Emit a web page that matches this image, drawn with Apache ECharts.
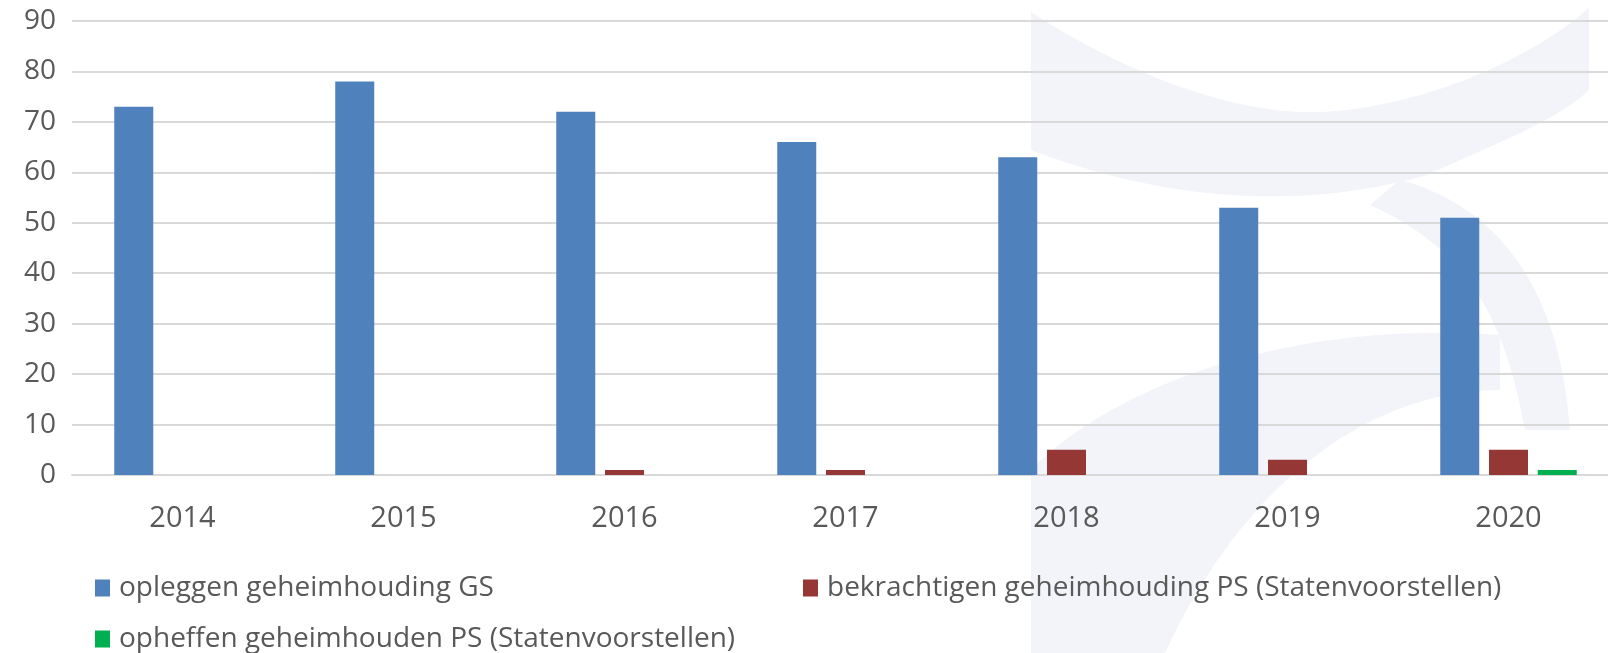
<!DOCTYPE html>
<html style="height: 100%">
<head>
  <meta charset="utf-8">
</head>
<body style="height: 100%; margin: 0; background: #fff">
  <div id="container" style="width: 1608px; height: 653px"></div>
  <script type="text/javascript" src="https://cdn.jsdelivr.net/npm/echarts@6/dist/echarts.min.js"></script>
  <script type="text/javascript">
    var years = ['2014', '2015', '2016', '2017', '2018', '2019', '2020'];
    var opleggenGS = [73, 78, 72, 66, 63, 53, 51];
    var bekrachtigenPS = [0, 0, 1, 1, 5, 3, 5];
    var opheffenPS = [0, 0, 0, 0, 0, 0, 1];
    var names = [
      'opleggen geheimhouding GS',
      'bekrachtigen geheimhouding PS (Statenvoorstellen)',
      'opheffen geheimhouden PS (Statenvoorstellen)'
    ];

    // faint logo watermark shapes
    var logoPaths = [
      'M1031,12 C1120,70 1230,115 1320,112 C1420,108 1530,60 1589,8 L1589,90 C1560,120 1480,150 1427,175 C1340,200 1200,215 1031,150 Z',
      'M1400,180 C1495,205 1560,285 1570,430 L1525,430 C1505,320 1470,250 1370,205 Z',
      'M1031,470 C1120,380 1300,320 1500,335 L1500,390 C1380,390 1250,470 1165,653 L1031,653 Z'
    ];
    var logoElements = [];
    logoPaths.forEach(function (d, i) {
      echarts.graphic.registerShape('logo' + i, echarts.graphic.extendPath(d, {}));
      logoElements.push({ type: 'logo' + i, z: -10, silent: true, style: { fill: '#F2F4F9' } });
    });

    var dom = document.getElementById('container');
    var myChart = echarts.init(dom);
    var font = '"Open Sans", sans-serif';
    var legendBase = {
      orient: 'horizontal',
      padding: 0,
      itemWidth: 15,
      itemHeight: 17,
      itemGap: 10,
      icon: 'rect',
      selectedMode: false,
      textStyle: { color: '#595959', fontSize: 28, fontFamily: font, padding: [0, 0, 0, 4] }
    };

    var option = {
      animation: false,
      backgroundColor: '#ffffff',
      color: ['#4F81BD', '#953735', '#00B050'],
      textStyle: { fontFamily: font },
      graphic: logoElements,
      legend: [
        Object.assign({}, legendBase, { left: 95, top: 574, data: [names[0]] }),
        Object.assign({}, legendBase, { left: 803, top: 574, data: [names[1]] }),
        Object.assign({}, legendBase, { left: 95, top: 625, data: [names[2]] })
      ],
      grid: {
        left: 72,
        width: 1547,
        top: 21,
        bottom: 178,
        containLabel: false,
        outerBoundsMode: 'none'
      },
      xAxis: {
        type: 'category',
        data: years,
        axisTick: { show: false },
        axisLine: { lineStyle: { color: '#D9D9D9', width: 2 } },
        axisLabel: { color: '#595959', fontSize: 29, margin: 29, fontFamily: font }
      },
      yAxis: {
        type: 'value',
        min: 0,
        max: 90,
        interval: 10,
        axisLine: { show: false },
        axisTick: { show: false },
        splitLine: { lineStyle: { color: '#D9D9D9', width: 2 } },
        axisLabel: { color: '#595959', fontSize: 28, margin: 16, fontFamily: font }
      },
      series: [
        { name: names[0], type: 'bar', data: opleggenGS, barWidth: 39, barGap: '25%' },
        { name: names[1], type: 'bar', data: bekrachtigenPS, barWidth: 39, barGap: '25%' },
        { name: names[2], type: 'bar', data: opheffenPS, barWidth: 39, barGap: '25%' }
      ]
    };

    if (option && typeof option === 'object') {
      myChart.setOption(option);
    }
  </script>
</body>
</html>
